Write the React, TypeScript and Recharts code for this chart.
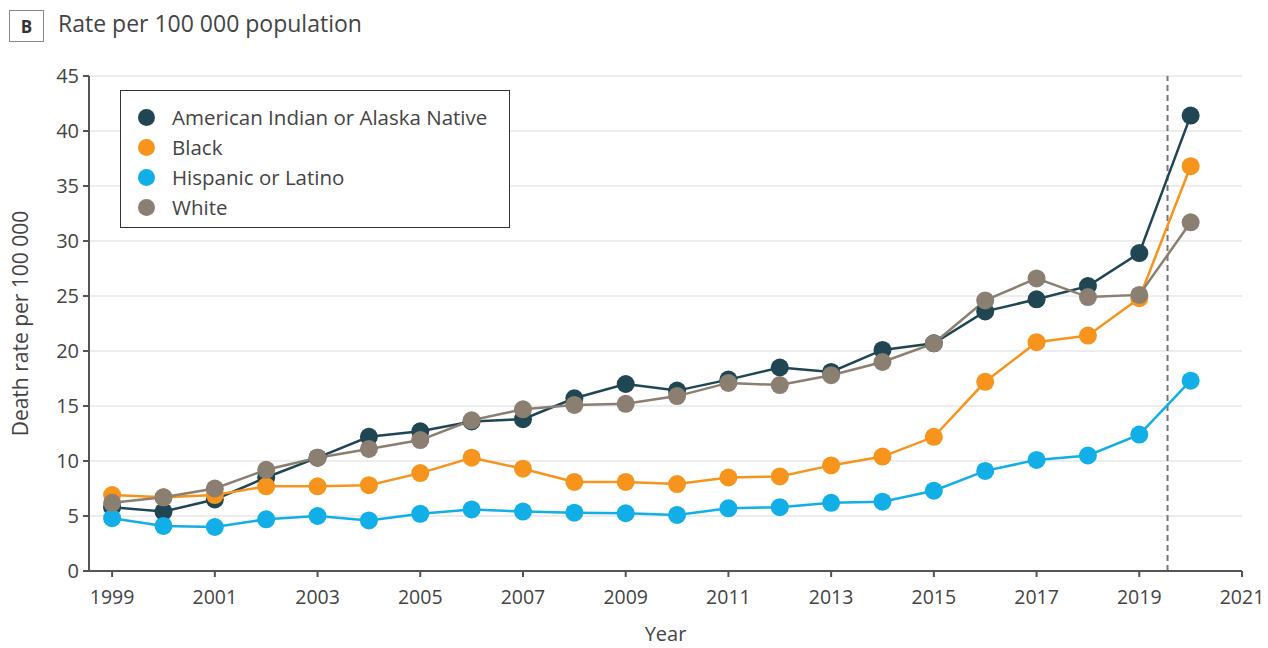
import React from 'react';
import {
  LineChart,
  Line,
  XAxis,
  YAxis,
  CartesianGrid,
  ReferenceLine,
  Label,
} from 'recharts';

const years = [
  1999, 2000, 2001, 2002, 2003, 2004, 2005, 2006, 2007, 2008, 2009,
  2010, 2011, 2012, 2013, 2014, 2015, 2016, 2017, 2018, 2019, 2020,
];

const americanIndian = [
  5.8, 5.4, 6.5, 8.5, 10.3, 12.2, 12.7, 13.6, 13.8, 15.7, 17.0,
  16.4, 17.4, 18.5, 18.1, 20.1, 20.7, 23.6, 24.7, 25.9, 28.9, 41.4,
];
const black = [
  6.9, 6.7, 6.9, 7.7, 7.7, 7.8, 8.9, 10.3, 9.3, 8.1, 8.1,
  7.9, 8.5, 8.6, 9.6, 10.4, 12.2, 17.2, 20.8, 21.4, 24.8, 36.8,
];
const hispanic = [
  4.8, 4.1, 4.0, 4.7, 5.0, 4.6, 5.2, 5.6, 5.4, 5.3, 5.25,
  5.1, 5.7, 5.8, 6.2, 6.3, 7.3, 9.1, 10.1, 10.5, 12.4, 17.3,
];
const white = [
  6.2, 6.7, 7.5, 9.2, 10.3, 11.1, 11.9, 13.7, 14.7, 15.1, 15.2,
  15.9, 17.1, 16.9, 17.8, 19.0, 20.7, 24.6, 26.6, 24.9, 25.1, 31.7,
];

const xTicks = [1999, 2001, 2003, 2005, 2007, 2009, 2011, 2013, 2015, 2017, 2019, 2021];
const yTicks = [0, 5, 10, 15, 20, 25, 30, 35, 40, 45];

const seriesNames = [
  'American Indian or Alaska Native',
  'Black',
  'Hispanic or Latino',
  'White',
];
const seriesColors = ['#1f4652', '#f7941d', '#12aee8', '#8a7f71'];
const keys = ['aian', 'black', 'hispanic', 'white'];

const pandemicStart = 2019.55;

const data = years.map((year, i) => ({
  year,
  aian: americanIndian[i],
  black: black[i],
  hispanic: hispanic[i],
  white: white[i],
}));

const FONT = '"Open Sans", sans-serif';
const TEXT = '#444';

// Boxed legend listing the four groups, placed over the upper-left of the plot
const LegendBox = () => (
  <div
    style={{
      position: 'absolute',
      left: 120,
      top: 90,
      width: 390,
      height: 138,
      boxSizing: 'border-box',
      border: '1.5px solid #333',
      background: '#fff',
      padding: '11px 0 0 17px',
      fontFamily: FONT,
      fontSize: 20.5,
      color: TEXT,
      letterSpacing: 0,
    }}
  >
    {seriesNames.map((name, i) => (
      <div
        key={name}
        style={{ display: 'flex', alignItems: 'center', height: 30 }}
      >
        <span
          style={{
            display: 'inline-block',
            width: 17,
            height: 17,
            borderRadius: '50%',
            background: seriesColors[i],
            marginRight: 17,
            flex: 'none',
          }}
        />
        {name}
      </div>
    ))}
  </div>
);

export default function App() {
  return (
    <div
      style={{
        position: 'absolute',
        left: 0,
        top: 0,
        width: 1268,
        height: 648,
        background: '#fff',
        fontFamily: FONT,
      }}
    >
      <div
        style={{
          position: 'absolute',
          left: 9,
          top: 10,
          width: 33,
          height: 30,
          border: '1.5px solid #888',
          display: 'flex',
          alignItems: 'center',
          justifyContent: 'center',
          fontWeight: 700,
          fontSize: 17,
          color: '#333',
        }}
      >
        B
      </div>
      <div
        style={{
          position: 'absolute',
          left: 58,
          top: 7,
          fontSize: 23,
          color: TEXT,
          letterSpacing: 0,
        }}
      >
        Rate per 100 000 population
      </div>
      <LineChart
        width={1268}
        height={648}
        data={data}
        margin={{ top: 76, right: 26, bottom: 6, left: 29 }}
      >
        <CartesianGrid vertical={false} stroke="#dcdcdc" strokeWidth={1.2} />
        <XAxis
          dataKey="year"
          type="number"
          domain={[1998.55, 2021]}
          ticks={xTicks}
          interval={0}
          allowDataOverflow
          height={71}
          stroke="#555"
          strokeWidth={2}
          tickSize={6}
          tickMargin={13}
          tick={{ fill: TEXT, fontSize: 19.5, fontFamily: FONT }}
        >
          <Label
            value="Year"
            position="insideBottom"
            offset={1}
            style={{ fill: TEXT, fontSize: 20, fontFamily: FONT }}
          />
        </XAxis>
        <YAxis
          type="number"
          domain={[0, 45]}
          ticks={yTicks}
          interval={0}
          width={60}
          stroke="#555"
          strokeWidth={2}
          tickSize={6}
          tickMargin={4}
          tick={{ fill: TEXT, fontSize: 20, fontFamily: FONT }}
        >
          <Label
            value="Death rate per 100 000"
            angle={-90}
            position="insideLeft"
            offset={-8}
            style={{ fill: TEXT, fontSize: 21, fontFamily: FONT, textAnchor: 'middle' }}
          />
        </YAxis>
        <ReferenceLine
          x={pandemicStart}
          stroke="#777"
          strokeWidth={2}
          strokeDasharray="6 4"
          segment={[
            { x: pandemicStart, y: 45 },
            { x: pandemicStart, y: 0.4 },
          ]}
        />
        {keys.map((key, i) => (
          <Line
            key={key}
            dataKey={key}
            name={seriesNames[i]}
            type="linear"
            stroke={seriesColors[i]}
            strokeWidth={2.5}
            dot={{ r: 9, fill: seriesColors[i], stroke: seriesColors[i], strokeWidth: 0 }}
            activeDot={false}
            isAnimationActive={false}
          />
        ))}
      </LineChart>
      <LegendBox />
    </div>
  );
}
